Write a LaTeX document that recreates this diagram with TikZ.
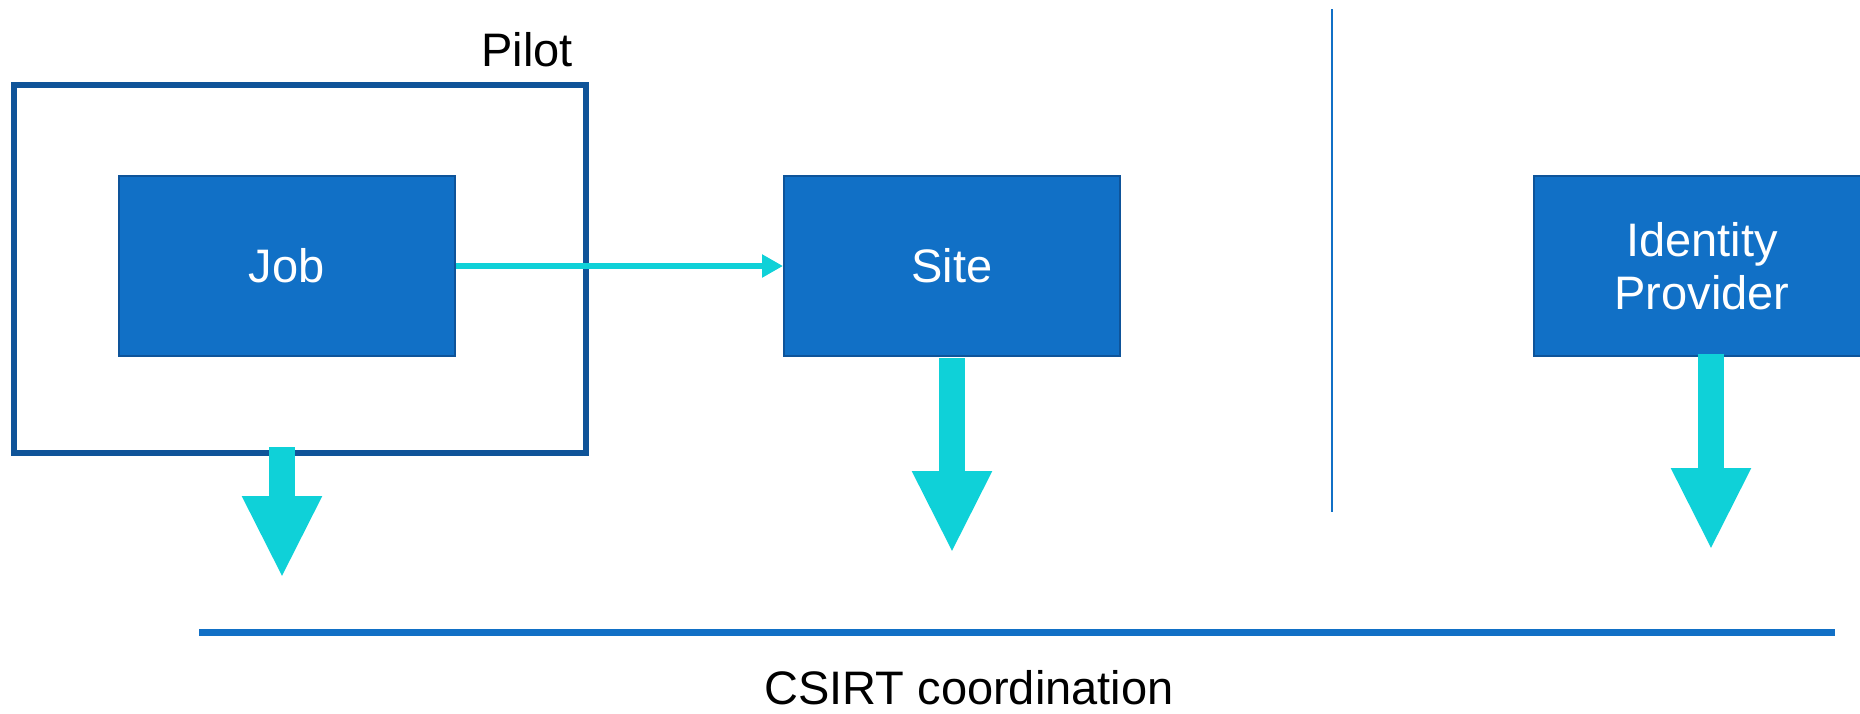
\documentclass[tikz,border=0pt]{standalone}
\usepackage{fontspec}
\setmainfont{Liberation Sans}
\usetikzlibrary{arrows.meta}
\definecolor{boxfill}{HTML}{1170C6}
\definecolor{boxedge}{HTML}{0E549A}
\definecolor{pilotedge}{HTML}{0F5499}
\definecolor{cyanarrow}{HTML}{0FD1D8}
\tikzset{
  bluebox/.style={draw=boxedge, line width=2pt, fill=boxfill, minimum width=336pt, minimum height=180pt,
    inner sep=0pt, text=white, align=center, font=\fontsize{47}{53}\selectfont},
  pilotbox/.style={draw=pilotedge, line width=6.5pt, minimum width=572pt, minimum height=368pt, inner sep=0pt},
  thinarrow/.style={draw=cyanarrow, line width=6pt, -{Triangle[width=22pt,length=21pt]}},
  bigarrow/.style={draw=cyanarrow, line width=26pt, -{Triangle[width=74pt,length=82pt]}},
  plainlabel/.style={inner sep=0pt, font=\fontsize{47}{53}\selectfont, text=black}
}
\begin{document}
\begin{tikzpicture}[x=1pt,y=-1pt]
\useasboundingbox (0,0) rectangle (1860,713);
\node[pilotbox] (pilot) at (300,269) {};
\node[plainlabel] (pilotlabel) at (527,50) {Pilot};
\node[bluebox] (job) at (286.5,266) {\raisebox{-4pt}{Job}};
\node[bluebox] (site) at (952,266) {\raisebox{-4pt}{Site}};
\node[bluebox] (idp) at (1702,266) {\raisebox{-3pt}{Identity}\\\raisebox{-3pt}{Provider}};
\coordinate (vtop) at (1332,9);
\coordinate (vbot) at (1332,512);
\draw[draw=boxfill, line width=1.5pt] (vtop) -- (vbot);
\draw[thinarrow] (job.east) -- (site.west);
\coordinate (jobout) at (282,447);
\coordinate (jobtip) at (282,578);
\draw[bigarrow] (jobout) -- (jobtip);
\coordinate (sitetip) at (952,553);
\draw[bigarrow] ([yshift=-1pt]site.south) -- (sitetip);
\coordinate (idpout) at (1711,354);
\coordinate (idptip) at (1711,550);
\draw[bigarrow] (idpout) -- (idptip);
\coordinate (lineL) at (199,632);
\coordinate (lineR) at (1835,632);
\draw[draw=boxfill, line width=7pt] (lineL) -- (lineR);
\node[plainlabel] (csirt) at (969,688) {CSIRT coordination};
\end{tikzpicture}
\end{document}
